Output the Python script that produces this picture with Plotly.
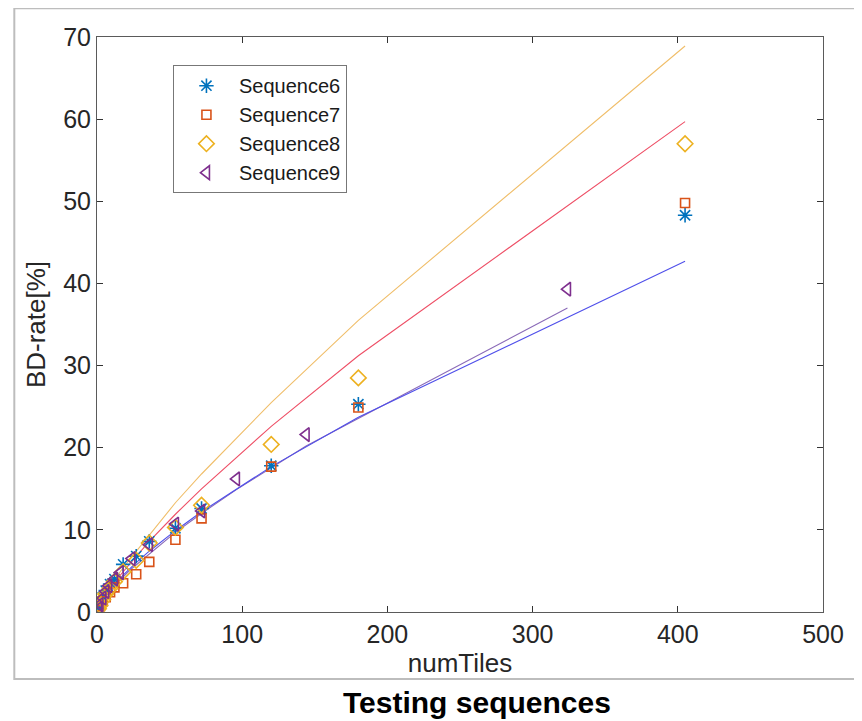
import plotly.graph_objects as go

# ---- data ----
x_main = [1, 2, 4, 6, 9, 12, 18, 27, 36, 54, 72, 120, 180, 405]
x_seq9 = [1, 2, 4, 6, 8, 12, 16, 24, 36, 54, 72, 96, 144, 324]

seq6 = [0.5, 1.0, 1.8, 2.6, 3.4, 4.0, 5.8, 6.8, 8.6, 10.2, 12.6, 17.8, 25.3, 48.3]
seq7 = [0.3, 0.7, 1.3, 1.8, 2.4, 3.0, 3.5, 4.6, 6.1, 8.8, 11.4, 17.7, 24.9, 49.8]
seq8 = [0.4, 0.8, 1.5, 2.2, 2.9, 3.7, 4.9, 6.3, 8.4, 10.3, 13.0, 20.4, 28.5, 57.0]
seq9 = [0.4, 0.9, 1.7, 2.5, 3.2, 4.0, 4.8, 6.5, 8.2, 10.7, 12.3, 16.2, 21.6, 39.3]

# fitted curves as drawn
fit_orange = [0.5, 0.9, 1.6, 2.2, 3.1, 3.9, 5.4, 7.4, 9.3, 13.3, 16.8, 25.5, 35.5, 68.9]
fit_red = [0.5, 0.85, 1.5, 2.1, 2.8, 3.6, 4.9, 6.8, 8.6, 11.9, 15.0, 22.6, 31.2, 59.7]
fit_blue = [0.55, 0.9, 1.5, 2.0, 2.7, 3.3, 4.5, 6.0, 7.4, 9.9, 12.2, 17.7, 23.7, 42.7]
fit_purple = [0.5, 0.8, 1.4, 1.9, 2.3, 3.1, 3.9, 5.3, 7.1, 9.7, 12.0, 14.9, 20.2, 37.0]

series_names = ["Sequence6", "Sequence7", "Sequence8", "Sequence9"]
x_ticks = [0, 100, 200, 300, 400, 500]
y_ticks = [0, 10, 20, 30, 40, 50, 60, 70]

FONT = "Liberation Sans, Arial, sans-serif"

fig = go.Figure()

# fit lines
for xs, ys, col in [
    (x_main, fit_orange, "#F0BE6A"),
    (x_main, fit_red, "#EE4F66"),
    (x_seq9, fit_purple, "#8A6AB8"),
    (x_main, fit_blue, "#4F4FEA"),
]:
    fig.add_trace(go.Scatter(x=[0] + xs, y=[0] + ys, mode="lines",
                             line=dict(color=col, width=1.1), showlegend=False,
                             hoverinfo="skip"))

marker_specs = [
    (x_main, seq6, "asterisk-open", "#0072BD", 12),
    (x_main, seq7, "square-open", "#D95319", 9),
    (x_main, seq8, "diamond-open", "#EDB120", 12),
    (x_seq9, seq9, "triangle-left-open", "#7E2F8E", 12),
]
for name, (xs, ys, sym, col, sz) in zip(series_names, marker_specs):
    fig.add_trace(go.Scatter(x=xs, y=ys, mode="markers", name=name,
                             marker=dict(symbol=sym, size=sz, color=col,
                                         line=dict(color=col, width=1.6))))

axis_common = dict(showline=True, linecolor="#5a5a5a", linewidth=1, mirror="ticks",
                   ticks="inside", ticklen=6, tickcolor="#333", showgrid=False,
                   zeroline=False, tickfont=dict(family=FONT, size=25, color="#262626"))

fig.update_xaxes(range=[0, 500], tickvals=x_ticks,
                 title=dict(text="numTiles", font=dict(family=FONT, size=26, color="#262626"),
                            standoff=4),
                 **axis_common)
fig.update_yaxes(range=[0, 70], tickvals=y_ticks,
                 title=dict(text="BD-rate[%]", font=dict(family=FONT, size=26, color="#262626"),
                            standoff=10),
                 **axis_common)

# outer frame and caption
fig.add_shape(type="rect", xref="paper", yref="paper", x0=-0.1139, x1=1.06, y0=-0.1165, y1=1.05,
              line=dict(color="#bdbdbd", width=2), layer="below")
fig.add_annotation(text="<b>Testing sequences</b>", xref="paper", yref="paper", x=0.5236, y=-0.158,
                   xanchor="center", yanchor="middle", showarrow=False,
                   font=dict(family=FONT, size=30, color="black"))

fig.update_layout(
    width=854, height=713,
    margin=dict(l=89, r=39, t=29, b=109),
    paper_bgcolor="white", plot_bgcolor="white",
    legend=dict(x=0.1046, y=0.951, xanchor="left", yanchor="top",
                bgcolor="white", bordercolor="#777", borderwidth=1,
                font=dict(family=FONT, size=20, color="#1a1a1a"),
                tracegroupgap=0, itemwidth=55),
)

fig.write_html("out.html")
